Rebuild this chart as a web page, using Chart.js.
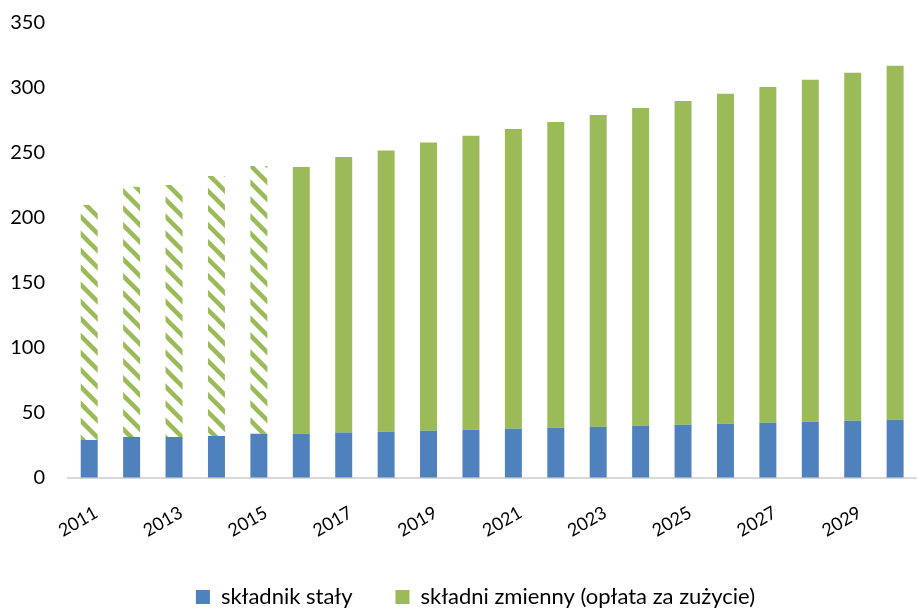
<!DOCTYPE html>
<html>
<head>
<meta charset="utf-8">
<script src="https://cdn.jsdelivr.net/npm/chart.js@4.4.1/dist/chart.umd.min.js"></script>
<style>
  html, body { margin: 0; padding: 0; background: #ffffff; overflow: hidden; width: 918px; height: 609px; }
  #wrap { position: absolute; left: 0; top: 0; width: 930px; height: 618px; }
</style>
</head>
<body>
<div id="wrap"><canvas id="c" width="930" height="618"></canvas></div>
<script>
// ---- data ----
const years = ['2011','2012','2013','2014','2015','2016','2017','2018','2019','2020',
               '2021','2022','2023','2024','2025','2026','2027','2028','2029','2030'];
const fixedPart = [29.2, 31.5, 31.5, 32.3, 34.0, 34.0, 35.0, 35.6, 36.4, 37.2,
                   37.9, 38.7, 39.5, 40.2, 41.0, 41.8, 42.5, 43.3, 44.1, 44.8];
const totals = [210, 224, 225.4, 232.3, 240, 239.2, 247, 252, 258, 263.3,
                268.5, 273.8, 279.2, 284.6, 290, 295.6, 300.8, 306.4, 311.8, 317.2];
const variablePart = totals.map((t, i) => +(t - fixedPart[i]).toFixed(1));
const historicalCount = 5; // 2011-2015 drawn hatched
const yTicks = [0, 50, 100, 150, 200, 250, 300, 350];
const seriesNames = ['składnik stały', 'składni zmienny (opłata za zużycie)'];

const BLUE = '#4F81BD';
const GREEN = '#9BBB59';

function makeHatch() {
  const s = 17;
  const c = document.createElement('canvas');
  c.width = s; c.height = s;
  const g = c.getContext('2d');
  g.fillStyle = '#ffffff';
  g.fillRect(0, 0, s, s);
  g.strokeStyle = GREEN;
  g.lineWidth = 4.5;
  for (let k = -1; k <= 1; k++) {
    g.beginPath();
    g.moveTo(k * s - 2, -2);
    g.lineTo(k * s + s + 2, s + 2);
    g.stroke();
  }
  return g.createPattern(c, 'repeat');
}
const hatch = makeHatch();
const greenFills = variablePart.map((v, i) => i < historicalCount ? hatch : GREEN);

const FONT = 'Lato, "Open Sans", "Liberation Sans", sans-serif';

const legendShift = {
  id: 'legendShift',
  afterLayout(chart) {
    if (chart.legend) { chart.legend.left += 12; chart.legend.right += 12; }
  }
};

new Chart(document.getElementById('c'), {
  type: 'bar',
  plugins: [legendShift],
  data: {
    labels: years,
    datasets: [
      { label: seriesNames[0], data: fixedPart, backgroundColor: BLUE,
        barPercentage: 0.4, categoryPercentage: 1.0 },
      { label: seriesNames[1], data: variablePart, backgroundColor: greenFills,
        barPercentage: 0.4, categoryPercentage: 1.0 }
    ]
  },
  options: {
    responsive: false,
    animation: false,
    devicePixelRatio: 1,
    layout: { padding: { left: 0, right: 3, top: 23, bottom: 0 } },
    plugins: {
      tooltip: { enabled: false },
      legend: {
        position: 'bottom',
        labels: {
          color: '#000000',
          font: { family: FONT, size: 22 },
          boxWidth: 14,
          boxHeight: 14,
          padding: 43,
          generateLabels: (chart) => chart.data.datasets.map((ds, i) => ({
            text: ds.label,
            fillStyle: i === 0 ? BLUE : GREEN,
            strokeStyle: i === 0 ? BLUE : GREEN,
            lineWidth: 0,
            hidden: false,
            datasetIndex: i
          }))
        }
      }
    },
    scales: {
      x: {
        stacked: true,
        offset: true,
        grid: { display: false, drawTicks: false },
        border: { display: true, color: '#d9d9d9', width: 2 },
        ticks: {
          color: '#000000',
          font: { family: FONT, size: 18 },
          autoSkip: false,
          minRotation: 30,
          maxRotation: 30,
          padding: 24,
          labelOffset: 7,
          callback: function (val, idx) { return idx % 2 === 0 ? years[idx] : ''; }
        },
        afterFit: (scale) => { scale.height = 65; }
      },
      y: {
        stacked: true,
        min: 0,
        max: 350,
        grid: { display: true, drawOnChartArea: false, drawTicks: true,
                tickLength: 23, tickColor: 'rgba(0,0,0,0)' },
        border: { display: false },
        afterBuildTicks: (scale) => { scale.ticks = yTicks.map(v => ({ value: v })); },
        ticks: {
          color: '#000000',
          font: { family: FONT, size: 20 },
          padding: 0
        },
        afterFit: (scale) => { scale.width = 68; }
      }
    }
  }
});
</script>
</body>
</html>
